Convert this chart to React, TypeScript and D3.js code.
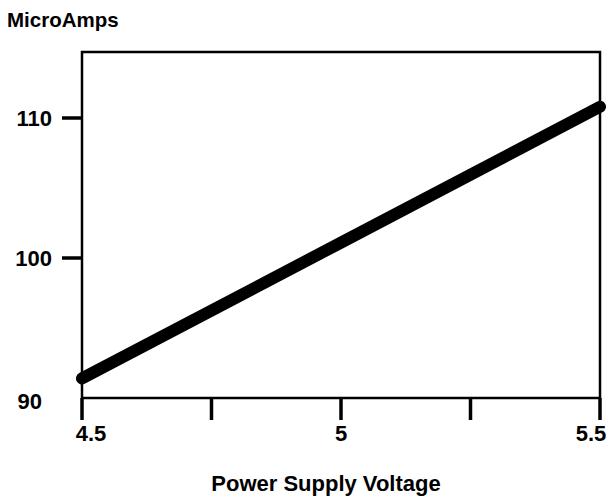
import React from 'react';
import * as d3 from 'd3';

// data
const voltage = [4.5, 5, 5.5];
const microAmps = [91.4, 101.1, 110.8];
const yTicks = [90, 100, 110];
const xMajor = [4.5, 5, 5.5];
const xMinor = [4.75, 5.25];

const W = 609;
const H = 504;
const font = 'Liberation Sans, Arial, Helvetica, sans-serif';

export default function App() {
  const left = 82, right = 600, top = 52, bottom = 398;
  const x = d3.scaleLinear().domain([4.5, 5.5]).range([left, right]);
  const y = d3.scaleLinear().domain([90, 110]).range([bottom, 118]);

  const line = d3.line<number>()
    .x((d, i) => x(voltage[i]))
    .y(d => y(d));

  return (
    <svg width={W} height={H} style={{ position: 'absolute', left: 0, top: 0, background: '#fff' }}>
      <text x={7} y={27} fontFamily={font} fontWeight="bold" fontSize={20.5} fill="#000">MicroAmps</text>

      {/* frame */}
      <rect x={left} y={top} width={right - left} height={bottom - top}
        fill="none" stroke="#000" strokeWidth={2.5} />

      {/* y ticks */}
      {yTicks.map(t => (
        <g key={t}>
          {t !== 90 && <line x1={left - 20} x2={left} y1={y(t)} y2={y(t)} stroke="#000" strokeWidth={3.5} />}
          <text x={t === 90 ? 42 : 52} y={y(t) + (t === 90 ? 3 : 0)} dy="0.35em" textAnchor="end"
            fontFamily={font} fontWeight="bold" fontSize={22}>{t}</text>
        </g>
      ))}

      {/* x ticks */}
      {xMajor.concat(xMinor).map(t => (
        <line key={t} x1={x(t)} x2={x(t)} y1={bottom} y2={bottom + 22} stroke="#000" strokeWidth={3.5} />
      ))}
      {xMajor.map((t, i) => (
        <text key={t} x={x(t) + (i === 0 ? 9 : i === 2 ? -9 : 0)} y={441} textAnchor="middle"
          fontFamily={font} fontWeight="bold" fontSize={22}>{String(t)}</text>
      ))}

      <path d={line(microAmps) || ''} fill="none" stroke="#000" strokeWidth={12} strokeLinecap="round" />

      <text x={326} y={491} textAnchor="middle" fontFamily={font} fontWeight="bold" fontSize={22}>
        Power Supply Voltage
      </text>
    </svg>
  );
}
